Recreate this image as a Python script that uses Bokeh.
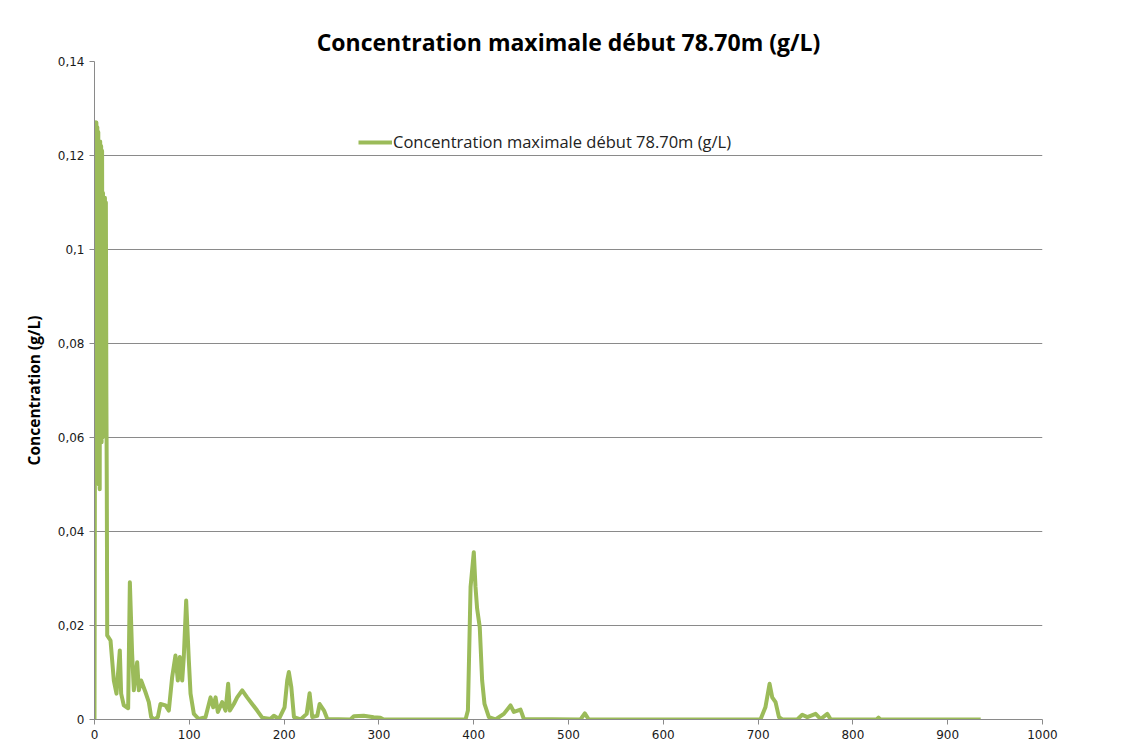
from bokeh.plotting import figure
from bokeh.models import Range1d, FixedTicker, CustomJSTickFormatter, Legend, LegendItem
from bokeh.embed import file_html
from bokeh.resources import INLINE

title_text = "Concentration maximale début 78.70m (g/L)"
series_name = "Concentration maximale début 78.70m (g/L)"
y_label = "Concentration (g/L)"

x_ticks = [0, 100, 200, 300, 400, 500, 600, 700, 800, 900, 1000]
y_ticks = [0, 0.02, 0.04, 0.06, 0.08, 0.10, 0.12, 0.14]

xs = [0, 1, 1.5, 2, 2.5, 3, 3.5, 4, 4.5, 5, 5.5, 6, 6.5, 7, 7.5, 8, 8.5, 9, 9.5, 10,
      10.5, 11, 11.5, 12, 12.5, 13, 13.4, 16.9, 20.4, 23.2, 26.7, 28.1,
      30.9, 35.5, 37.3, 39.7, 41.5, 45, 46.8, 49.2, 53.8, 57.3, 59.8, 63.3, 66.8, 69.6,
      74.9, 78.4, 81.9, 85.4, 87.9, 90, 92.5, 94.2, 96.7, 99.5, 101.3, 104.8, 110, 117.1,
      122.4, 125.2, 127.7, 130.1, 134.7, 138.2, 141, 142.8, 147, 150.5, 155.8, 161, 166.3,
      171.6, 176.9, 185.7, 189.2, 194.5, 200.5, 203.3, 205, 207.6, 210.4, 217.4, 223.8,
      226.9, 229.7, 235, 237.5, 242.1, 245.6, 270, 273.6, 284, 294.5, 301.5, 305, 391.4,
      393.9, 396.7, 400.1, 401.9, 403.6, 406.4, 408.9, 411.4, 416, 423, 431.8, 438.8,
      442.4, 449.4, 452.9, 512.7, 517.2, 521.4, 702.5, 707.7, 712.1, 714.9, 718.4, 722,
      725.5, 741.3, 746.6, 751.9, 760.7, 766, 773, 776.6, 825, 827, 829, 934.8]
ys = [0, 0.127, 0.052, 0.127, 0.051, 0.126, 0.055, 0.125, 0.050, 0.123, 0.049, 0.123,
      0.060, 0.122, 0.059, 0.121, 0.060, 0.112, 0.062, 0.111, 0.062, 0.111, 0.063,
      0.110, 0.070, 0.048, 0.0179, 0.0168, 0.0083, 0.0055, 0.0147, 0.0055,
      0.0030, 0.0024, 0.0292, 0.0140, 0.0062, 0.0122, 0.0062, 0.0083, 0.0058, 0.0037,
      0.0005, 0.0, 0.0005, 0.0033,
      0.0030, 0.0019, 0.0090, 0.0136, 0.0083, 0.0133, 0.0083, 0.0133, 0.0253, 0.0126,
      0.0055, 0.0012, 0.0001, 0.0005,
      0.0047, 0.0026, 0.0047, 0.0016, 0.0037, 0.0019, 0.0076, 0.0019, 0.0033, 0.0047,
      0.0062, 0.0047, 0.0033,
      0.0019, 0.0004, 0.0001, 0.0008, 0.0001, 0.0026, 0.0083, 0.0101, 0.0069, 0.0005,
      0.0, 0.0012,
      0.0056, 0.0005, 0.0008, 0.0033, 0.0019, 0.0001, 0.0, 0.0007, 0.0008, 0.0005,
      0.0004, 0.0, 0.0,
      0.0019, 0.0282, 0.0356, 0.0282, 0.0236, 0.0196, 0.0083, 0.0033, 0.0005, 0.0, 0.0012,
      0.0030,
      0.0016, 0.0021, 0.0001, 0.0, 0.0013, 0.0, 0.0, 0.0026, 0.0076, 0.0047, 0.0037,
      0.0005,
      0.0, 0.0, 0.0010, 0.0005, 0.0012, 0.0001, 0.0012, 0.0, 0.0, 0.0004, 0.0, 0.0]

p = figure(width=1134, height=745, output_backend="svg", toolbar_location=None,
           x_range=Range1d(0, 1000), y_range=Range1d(0, 0.14),
           min_border_left=94, min_border_right=92, min_border_top=61, min_border_bottom=26)

p.title.text = title_text
p.title.align = "center"
p.title.text_font = "Open Sans"
p.title.text_font_size = "23px"
p.title.text_font_style = "bold"
p.title.text_color = "#000000"
p.title.offset = 7
p.title.standoff = 8

p.outline_line_color = None
p.background_fill_color = "white"
p.border_fill_color = "white"

p.xgrid.grid_line_color = None
p.ygrid.grid_line_color = "#8a8a8a"
p.ygrid.grid_line_width = 1
p.ygrid.ticker = FixedTicker(ticks=y_ticks)

p.xaxis.ticker = FixedTicker(ticks=x_ticks)
p.yaxis.ticker = FixedTicker(ticks=y_ticks)
p.yaxis.formatter = CustomJSTickFormatter(
    code="var s = (Math.round(tick*100)/100).toString(); return s.replace('.', ',');")

for ax in (p.xaxis[0], p.yaxis[0]):
    ax.axis_line_color = "#8a8a8a"
    ax.major_tick_line_color = "#8a8a8a"
    ax.minor_tick_line_color = None
    ax.major_tick_in = 0
    ax.major_tick_out = 5
    ax.major_label_text_font = "DejaVu Sans"
    ax.major_label_text_font_size = "12px"
    ax.major_label_text_color = "#1a1a1a"

p.yaxis.axis_label = y_label
p.yaxis.axis_label_text_font = "Open Sans"
p.yaxis.axis_label_text_font_size = "15.5px"
p.yaxis.axis_label_text_font_style = "bold"
p.yaxis.axis_label_text_color = "#000000"
p.yaxis.axis_label_standoff = 10

r = p.line(xs, ys, line_color="#9BBB59", line_width=4, line_join="round")

legend = Legend(items=[LegendItem(label=series_name, renderers=[r])],
                location=(264, 566), orientation="horizontal",
                background_fill_alpha=0, border_line_color=None,
                padding=0, margin=0, glyph_width=34, glyph_height=16,
                label_standoff=1, label_text_font="Open Sans",
                label_text_font_size="16.5px", label_text_color="#222222")
p.add_layout(legend, "center")

open("out.html", "w").write(file_html(p, INLINE))
